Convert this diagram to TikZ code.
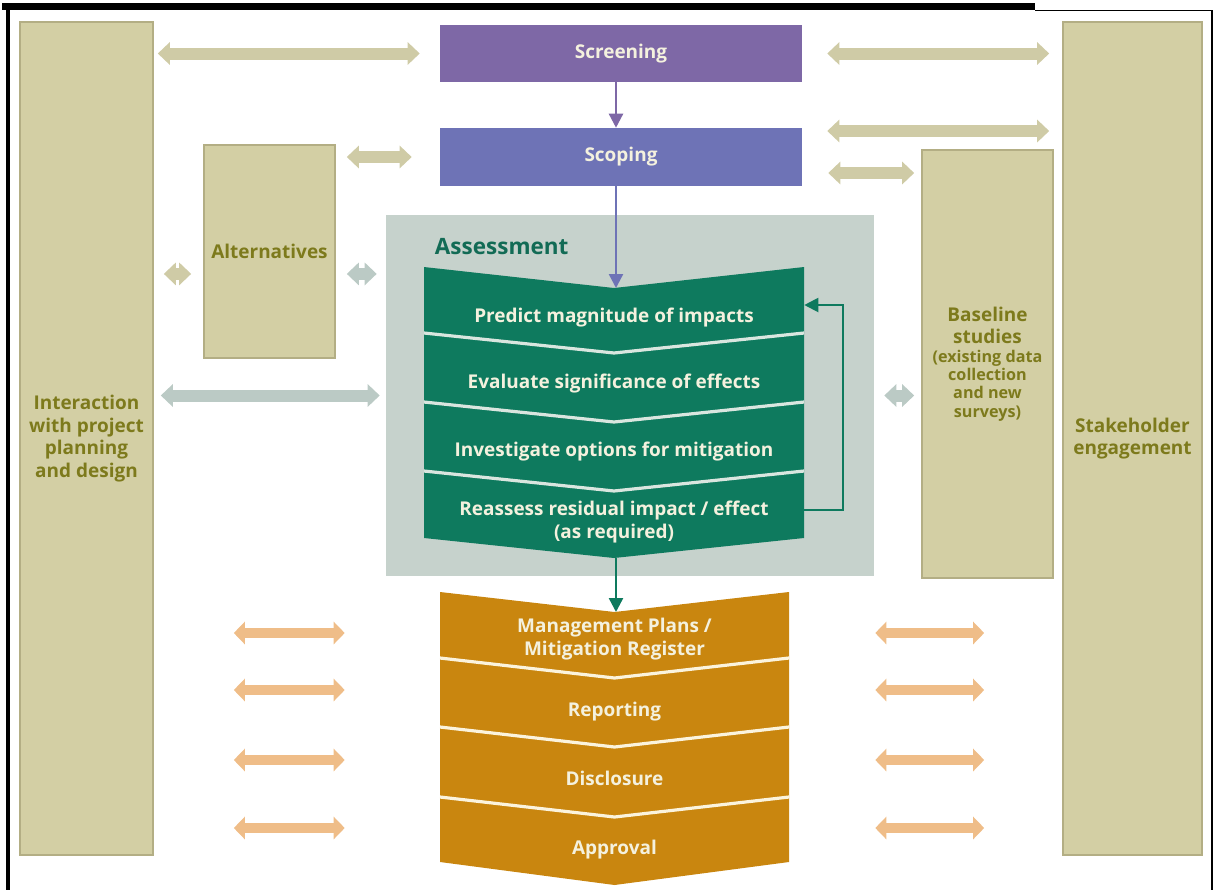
\documentclass[tikz,border=0pt]{standalone}
\usepackage{fontspec}
\setmainfont{Open Sans}
\usetikzlibrary{arrows.meta}
\usetikzlibrary{positioning}
\definecolor{khaki}{HTML}{D3CFA4}
\definecolor{khakiline}{HTML}{B3AE84}
\definecolor{olive}{HTML}{7D7A1C}
\definecolor{screenpurple}{HTML}{7E68A6}
\definecolor{scopeblue}{HTML}{6E73B6}
\definecolor{assessgrey}{HTML}{C6D2CC}
\definecolor{assessgreen}{HTML}{0E7A5E}
\definecolor{assesslabel}{HTML}{126B55}
\definecolor{mitorange}{HTML}{C9860F}
\definecolor{peach}{HTML}{EFBD88}
\definecolor{khakiarrow}{HTML}{CFCBA6}
\definecolor{greyarrow}{HTML}{BBCAC5}
\definecolor{chevtext}{HTML}{F4F1DE}
\definecolor{gapline}{HTML}{D9E6DF}
\definecolor{gaporange}{HTML}{FBF3DD}

\begin{document}
\begin{tikzpicture}[x=0.25mm, y=-0.25mm,
    sidebox/.style={draw=khakiline, line width=0.4mm, fill=khaki, text=olive, font=\bfseries\fontsize{13.5}{16}\selectfont, align=center},
    stagebox/.style={text=chevtext, font=\bfseries\fontsize{13.5}{16}\selectfont, minimum width=90.5mm},
    rowtext/.style={text=chevtext, font=\bfseries\fontsize{13.5}{16}\selectfont, align=center},
    khakiarr/.style={draw=khakiarrow, line width=3mm, {Triangle[width=5.5mm,length=3mm]}-{Triangle[width=5.5mm,length=3mm]}},
    greyarr/.style={khakiarr, draw=greyarrow},
    peacharr/.style={draw=peach, line width=2.5mm, {Triangle[width=5.5mm,length=2.75mm]}-{Triangle[width=5.5mm,length=2.75mm]}},
    flow/.style={line width=0.6mm, -{Triangle[width=3.5mm,length=3.5mm]}}]
    \useasboundingbox (0,0) rectangle (1215,890);

    % frame
    \fill[black] (2,3) rectangle (1035,10);
    \draw[line width=0.3mm] (1035,10.5) -- (1212,10.5) -- (1212,890);
    \draw[line width=0.8mm] (8,3) -- (8,890);

    % side columns
    \node[sidebox, minimum width=33.25mm, minimum height=208.25mm] (inter) at (86.5,438.5) {Interaction\\with project\\planning\\and design};
    \node[sidebox, minimum width=34.75mm, minimum height=208.25mm] (stake) at (1132.5,438.5) {Stakeholder\\engagement};
    \node[sidebox, minimum width=32.75mm, minimum height=53.25mm] (alt) at (269.5,251.5) {Alternatives};
    \node[sidebox, minimum width=32.75mm, minimum height=107mm] (base) at (987.5,364) {Baseline\\studies\\[-3pt]{\fontsize{11.5}{13}\selectfont(existing data}\\[-3pt]{\fontsize{11.5}{13}\selectfont collection}\\[-3pt]{\fontsize{11.5}{13}\selectfont and new}\\[-3pt]{\fontsize{11.5}{13}\selectfont surveys)}};

    % stages
    \node[stagebox, fill=screenpurple, minimum height=14.25mm] (scr) at (621,53.5) {Screening};
    \node[stagebox, fill=scopeblue, minimum height=14.5mm] (scp) at (621,157) {Scoping};

    % assessment block
    \node[fill=assessgrey, minimum width=122mm, minimum height=90.25mm] (assess) at (630,395.5) {};
    \node[text=assesslabel, font=\bfseries\fontsize{16}{19}\selectfont, anchor=west] (assesslbl) at (430,247) {Assessment};
    \fill[assessgreen] (424,267) -- (614,288) -- (804,267) -- (804,538) -- (614,558) -- (424,538) -- cycle;
    \foreach \t in {333,402,471}
        \draw[gapline, line width=0.8mm] (424,\t) -- (614,{\t+20}) -- (804,\t);
    \node[rowtext, minimum width=95mm] (g1) at (614,318) {Predict magnitude of impacts};
    \node[rowtext, minimum width=95mm] (g2) at (614,384) {Evaluate significance of effects};
    \node[rowtext, minimum width=95mm] (g3) at (614,452) {Investigate options for mitigation};
    \node[rowtext, minimum width=95mm] (g4) at (614,522) {Reassess residual impact / effect\\[1pt](as required)};

    % management block
    \fill[mitorange] (440,592) -- (614.5,612) -- (789,592) -- (789,862) -- (614.5,885) -- (440,862) -- cycle;
    \foreach \t in {658,727,797}
        \draw[gaporange, line width=0.8mm] (440,\t) -- (614.5,{\t+20}) -- (789,\t);
    \node[rowtext, minimum width=87.25mm] (m1) at (614.5,639) {Management Plans /\\Mitigation Register};
    \node[rowtext, minimum width=87.25mm] (m2) at (614.5,712) {Reporting};
    \node[rowtext, minimum width=87.25mm] (m3) at (614.5,778) {Disclosure};
    \node[rowtext, minimum width=87.25mm] (m4) at (614.5,850) {Approval};

    \coordinate (gtop) at (616,288);
    \coordinate (gbot) at (616,558);
    \coordinate (otop) at (616,612);

    % flow arrows
    \draw[flow, screenpurple] (scr.south -| gtop) -- (scp.north -| gtop);
    \draw[flow, scopeblue] (scp.south -| gtop) -- (gtop);
    \draw[flow, assessgreen] (gbot) -- (otop);
    \draw[flow, assessgreen, line width=0.5mm] ([yshift=3mm]g4.east) -- ++(9.75mm,0) |- ([yshift=3.25mm]g1.east);

    % interaction arrows
    \draw[khakiarr, shorten <=1mm, shorten >=5mm] (inter.east |- scr) -- (scr.west);
    \draw[khakiarr, shorten <=6.25mm, shorten >=3.25mm] (scr.east) -- (stake.west |- scr.east);
    \draw[khakiarr, shorten <=6.25mm, shorten >=3.25mm] ([yshift=6.5mm]scp.east) -- ([yshift=6.5mm]stake.west |- scp.east);
    \draw[khakiarr, shorten <=6.5mm, shorten >=1.75mm] ([yshift=-4mm]scp.east) -- ([yshift=-4mm]base.west |- scp.east);
    \draw[khakiarr, shorten <=2.75mm, shorten >=7mm] (alt.east |- scp) -- (scp.west);
    \draw[khakiarr, shorten <=2.5mm, shorten >=3mm] ([yshift=-5.6mm]inter.east |- alt) -- ([yshift=-5.6mm]alt.west);
    \draw[greyarr, shorten <=2.75mm, shorten >=2.25mm] ([yshift=-5.6mm]alt.east) -- ([yshift=-5.6mm]assess.west |- alt.east);
    \draw[greyarr, shorten <=1.75mm, shorten >=1.5mm] (inter.east |- assess) -- (assess.west);
    \draw[greyarr, shorten <=2.5mm, shorten >=1.75mm] (assess.east) -- (base.west |- assess.east);
    \foreach \r/\s in {m1/1.5, m2/5.5, m3/4.5, m4/5.5} {
        \draw[peacharr, shorten <=20mm, shorten >=23.75mm] ([yshift=\s mm]inter.east |- \r.west) -- ([yshift=\s mm]\r.west);
        \draw[peacharr, shorten <=21.5mm, shorten >=19.5mm] ([yshift=\s mm]\r.east) -- ([yshift=\s mm]stake.west |- \r.east);
    }
\end{tikzpicture}
\end{document}
